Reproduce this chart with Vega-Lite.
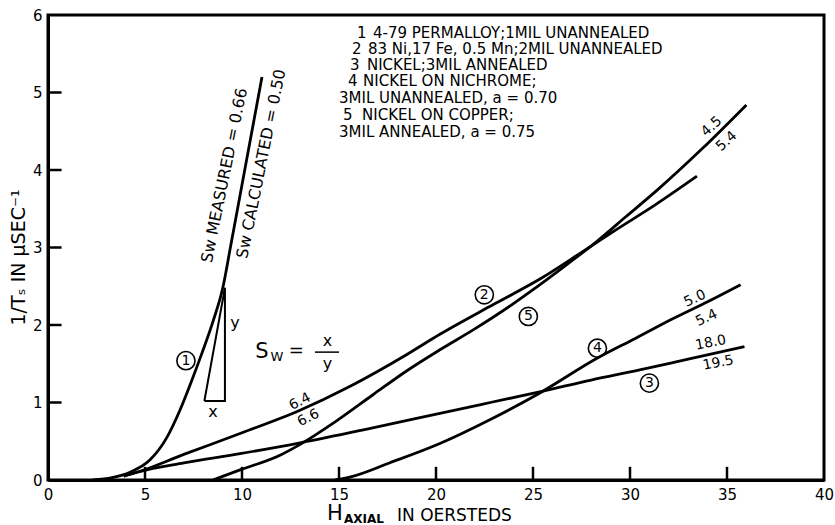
{
  "$schema": "https://vega.github.io/schema/vega-lite/v6.json",
  "width": 776,
  "height": 465,
  "autosize": {"type": "none"},
  "padding": {"left": 48, "top": 15, "right": 11, "bottom": 45},
  "background": "white",
  "config": {
    "font": "DejaVu Sans",
    "view": {"stroke": "black", "strokeWidth": 3},
    "text": {"color": "black", "font": "DejaVu Sans"}
  },
  "datasets": {
    "curves": [
      {"curve": "1", "x": 2.3, "y": 0},
      {"curve": "1", "x": 3.3, "y": 0.03},
      {"curve": "1", "x": 4.23, "y": 0.1},
      {"curve": "1", "x": 5.26, "y": 0.26},
      {"curve": "1", "x": 6.13, "y": 0.55},
      {"curve": "1", "x": 6.8, "y": 0.9},
      {"curve": "1", "x": 7.42, "y": 1.29},
      {"curve": "1", "x": 7.94, "y": 1.64},
      {"curve": "1", "x": 8.51, "y": 2.05},
      {"curve": "1", "x": 9.02, "y": 2.49},
      {"curve": "1", "x": 9.38, "y": 2.97},
      {"curve": "1", "x": 10.2, "y": 4.08},
      {"curve": "1", "x": 11.03, "y": 5.2},
      {"curve": "2", "x": 3.9, "y": 0.05},
      {"curve": "2", "x": 4.59, "y": 0.1},
      {"curve": "2", "x": 7.0, "y": 0.33},
      {"curve": "2", "x": 9.9, "y": 0.6},
      {"curve": "2", "x": 12.99, "y": 0.9},
      {"curve": "2", "x": 15.5, "y": 1.2},
      {"curve": "2", "x": 18.5, "y": 1.62},
      {"curve": "2", "x": 20.2, "y": 1.88},
      {"curve": "2", "x": 23.0, "y": 2.27},
      {"curve": "2", "x": 25.4, "y": 2.6},
      {"curve": "2", "x": 27.4, "y": 2.92},
      {"curve": "2", "x": 29.1, "y": 3.2},
      {"curve": "2", "x": 31.3, "y": 3.55},
      {"curve": "2", "x": 33.45, "y": 3.92},
      {"curve": "3", "x": 3.9, "y": 0.05},
      {"curve": "3", "x": 4.59, "y": 0.1},
      {"curve": "3", "x": 7.0, "y": 0.22},
      {"curve": "3", "x": 9.9, "y": 0.34},
      {"curve": "3", "x": 13.0, "y": 0.48},
      {"curve": "3", "x": 16.5, "y": 0.66},
      {"curve": "3", "x": 20.2, "y": 0.86},
      {"curve": "3", "x": 22.8, "y": 1.0},
      {"curve": "3", "x": 25.4, "y": 1.14},
      {"curve": "3", "x": 28.0, "y": 1.29},
      {"curve": "3", "x": 30.5, "y": 1.42},
      {"curve": "3", "x": 33.0, "y": 1.56},
      {"curve": "3", "x": 35.9, "y": 1.72},
      {"curve": "4", "x": 14.8, "y": 0},
      {"curve": "4", "x": 15.6, "y": 0.04},
      {"curve": "4", "x": 17.6, "y": 0.22},
      {"curve": "4", "x": 20.2, "y": 0.47},
      {"curve": "4", "x": 22.8, "y": 0.78},
      {"curve": "4", "x": 25.4, "y": 1.13},
      {"curve": "4", "x": 28.3, "y": 1.57},
      {"curve": "4", "x": 30.3, "y": 1.83},
      {"curve": "4", "x": 32.2, "y": 2.08},
      {"curve": "4", "x": 34.0, "y": 2.3},
      {"curve": "4", "x": 35.7, "y": 2.52},
      {"curve": "5", "x": 8.5, "y": 0},
      {"curve": "5", "x": 9.9, "y": 0.13},
      {"curve": "5", "x": 11.96, "y": 0.32},
      {"curve": "5", "x": 13.0, "y": 0.46},
      {"curve": "5", "x": 14.8, "y": 0.75},
      {"curve": "5", "x": 16.75, "y": 1.1},
      {"curve": "5", "x": 18.5, "y": 1.41},
      {"curve": "5", "x": 20.2, "y": 1.68},
      {"curve": "5", "x": 22.0, "y": 1.95},
      {"curve": "5", "x": 23.9, "y": 2.26},
      {"curve": "5", "x": 25.36, "y": 2.52},
      {"curve": "5", "x": 27.06, "y": 2.84},
      {"curve": "5", "x": 28.3, "y": 3.08},
      {"curve": "5", "x": 29.8, "y": 3.4},
      {"curve": "5", "x": 31.4, "y": 3.74},
      {"curve": "5", "x": 33.7, "y": 4.27},
      {"curve": "5", "x": 36.0, "y": 4.84}
    ],
    "triangle": [
      {"i": 0, "x": 8.06, "y": 1.02},
      {"i": 1, "x": 9.12, "y": 1.02},
      {"i": 2, "x": 9.12, "y": 2.48},
      {"i": 3, "x": 8.06, "y": 1.02}
    ],
    "tickpaths": [
      {"t": "x5", "k": 0, "x": 5, "y": 0}, {"t": "x5", "k": 1, "x": 5, "y": 0.17},
      {"t": "x10", "k": 0, "x": 10, "y": 0}, {"t": "x10", "k": 1, "x": 10, "y": 0.17},
      {"t": "x15", "k": 0, "x": 15, "y": 0}, {"t": "x15", "k": 1, "x": 15, "y": 0.17},
      {"t": "x20", "k": 0, "x": 20, "y": 0}, {"t": "x20", "k": 1, "x": 20, "y": 0.17},
      {"t": "x25", "k": 0, "x": 25, "y": 0}, {"t": "x25", "k": 1, "x": 25, "y": 0.17},
      {"t": "x30", "k": 0, "x": 30, "y": 0}, {"t": "x30", "k": 1, "x": 30, "y": 0.17},
      {"t": "x35", "k": 0, "x": 35, "y": 0}, {"t": "x35", "k": 1, "x": 35, "y": 0.17},
      {"t": "y1", "k": 0, "x": 0, "y": 1}, {"t": "y1", "k": 1, "x": 0.7, "y": 1},
      {"t": "y2", "k": 0, "x": 0, "y": 2}, {"t": "y2", "k": 1, "x": 0.7, "y": 2},
      {"t": "y3", "k": 0, "x": 0, "y": 3}, {"t": "y3", "k": 1, "x": 0.7, "y": 3},
      {"t": "y4", "k": 0, "x": 0, "y": 4}, {"t": "y4", "k": 1, "x": 0.7, "y": 4},
      {"t": "y5", "k": 0, "x": 0, "y": 5}, {"t": "y5", "k": 1, "x": 0.7, "y": 5}
    ],
    "circles": [
      {"x": 7.11, "y": 1.54, "text": "1"},
      {"x": 22.49, "y": 2.39, "text": "2"},
      {"x": 31.0, "y": 1.25, "text": "3"},
      {"x": 28.32, "y": 1.7, "text": "4"},
      {"x": 24.76, "y": 2.11, "text": "5"}
    ],
    "bar": [
      {"x": 13.76, "x2": 15.0, "y": 1.65}
    ],
    "notes": [
      {"group": "a27", "x": 12.99, "y": 1.01, "text": "6.4"},
      {"group": "a27", "x": 13.42, "y": 0.8, "text": "6.6"},
      {"group": "a42", "x": 34.21, "y": 4.56, "text": "4.5"},
      {"group": "a42", "x": 34.98, "y": 4.37, "text": "5.4"},
      {"group": "a25", "x": 33.35, "y": 2.34, "text": "5.0"},
      {"group": "a25", "x": 33.95, "y": 2.09, "text": "5.4"},
      {"group": "a11", "x": 34.16, "y": 1.77, "text": "18.0"},
      {"group": "a11", "x": 34.55, "y": 1.51, "text": "19.5"},
      {"group": "rot", "x": 9.1, "y": 3.93, "text": "Sw MEASURED = 0.66"},
      {"group": "rot", "x": 11.0, "y": 4.08, "text": "Sw CALCULATED = 0.50"},
      {"group": "legend", "x": 15.93, "y": 5.764, "text": "1"},
      {"group": "legend", "x": 16.75, "y": 5.764, "text": "4-79 PERMALLOY;1MIL UNANNEALED"},
      {"group": "legend", "x": 15.67, "y": 5.557, "text": "2"},
      {"group": "legend", "x": 16.49, "y": 5.557, "text": "83 Ni,17 Fe, 0.5 Mn;2MIL UNANNEALED"},
      {"group": "legend", "x": 15.57, "y": 5.355, "text": "3"},
      {"group": "legend", "x": 16.44, "y": 5.355, "text": "NICKEL;3MIL ANNEALED"},
      {"group": "legend", "x": 15.46, "y": 5.148, "text": "4"},
      {"group": "legend", "x": 16.24, "y": 5.148, "text": "NICKEL ON NICHROME;"},
      {"group": "legend", "x": 15.0, "y": 4.925, "text": "3MIL UNANNEALED, a = 0.70"},
      {"group": "legend", "x": 15.21, "y": 4.71, "text": "5"},
      {"group": "legend", "x": 16.19, "y": 4.71, "text": "NICKEL ON COPPER;"},
      {"group": "legend", "x": 15.0, "y": 4.494, "text": "3MIL ANNEALED, a = 0.75"},
      {"group": "S", "x": 11.03, "y": 1.65, "text": "S"},
      {"group": "W", "x": 11.8, "y": 1.59, "text": "W"},
      {"group": "eq", "x": 12.8, "y": 1.67, "text": "="},
      {"group": "var", "x": 14.4, "y": 1.8, "text": "x"},
      {"group": "var", "x": 14.4, "y": 1.5, "text": "y"},
      {"group": "var", "x": 8.5, "y": 0.88, "text": "x"},
      {"group": "var", "x": 9.64, "y": 2.03, "text": "y"},
      {"group": "H", "x": 14.79, "y": -0.44, "text": "H"},
      {"group": "AX", "x": 15.26, "y": -0.5, "text": "AXIAL"},
      {"group": "IN", "x": 17.99, "y": -0.46, "text": "IN OERSTEDS"}
    ]
  },
  "encoding": {
    "x": {
      "field": "x", "type": "quantitative",
      "scale": {"domain": [0, 40], "nice": false, "zero": false},
      "axis": {
        "title": null, "values": [0, 5, 10, 15, 20, 25, 30, 35, 40],
        "grid": false, "ticks": false,
        "domainColor": "black", "domainWidth": 3,
        "labelPadding": 7, "labelFontSize": 15, "labelColor": "black",
        "labelFlush": false, "labelOverlap": false, "labelFont": "DejaVu Sans"
      }
    },
    "y": {
      "field": "y", "type": "quantitative",
      "scale": {"domain": [0, 6], "nice": false, "zero": false},
      "axis": {
        "title": "1/Tₛ IN μSEC⁻¹", "values": [0, 1, 2, 3, 4, 5, 6],
        "grid": false, "ticks": false,
        "domainColor": "black", "domainWidth": 3,
        "labelPadding": 6, "labelFontSize": 15, "labelColor": "black",
        "labelFlush": false, "labelOverlap": false, "labelFont": "DejaVu Sans",
        "titleFont": "DejaVu Sans", "titleFontSize": 19, "titleFontWeight": "normal",
        "titleColor": "black", "titleX": -30, "titleY": 242, "titleAngle": -90,
        "titleAlign": "center", "titleBaseline": "middle"
      }
    }
  },
  "layer": [
    {
      "data": {"name": "curves"},
      "mark": {"type": "line", "color": "black", "strokeWidth": 2.8, "interpolate": "monotone"},
      "encoding": {"detail": {"field": "curve", "type": "nominal"}}
    },
    {
      "data": {"name": "triangle"},
      "mark": {"type": "line", "color": "black", "strokeWidth": 2},
      "encoding": {"order": {"field": "i", "type": "quantitative"}}
    },
    {
      "data": {"name": "tickpaths"},
      "mark": {"type": "line", "color": "black", "strokeWidth": 2.5, "strokeCap": "butt"},
      "encoding": {
        "detail": {"field": "t", "type": "nominal"},
        "order": {"field": "k", "type": "quantitative"}
      }
    },
    {
      "data": {"name": "circles"},
      "mark": {"type": "point", "shape": "circle", "filled": false, "color": "black", "size": 330, "strokeWidth": 1.6, "opacity": 1}
    },
    {
      "data": {"name": "circles"},
      "mark": {"type": "text", "fontSize": 14, "align": "center", "baseline": "middle"},
      "encoding": {"text": {"field": "text"}}
    },
    {
      "data": {"name": "bar"},
      "mark": {"type": "rule", "color": "black", "strokeWidth": 1.5},
      "encoding": {"x2": {"field": "x2"}}
    },
    {
      "data": {"name": "notes"},
      "transform": [{"filter": "datum.group === 'a27'"}],
      "mark": {"type": "text", "fontSize": 14, "angle": -27, "align": "center", "baseline": "middle"},
      "encoding": {"text": {"field": "text"}}
    },
    {
      "data": {"name": "notes"},
      "transform": [{"filter": "datum.group === 'a42'"}],
      "mark": {"type": "text", "fontSize": 14, "angle": -42, "align": "center", "baseline": "middle"},
      "encoding": {"text": {"field": "text"}}
    },
    {
      "data": {"name": "notes"},
      "transform": [{"filter": "datum.group === 'a25'"}],
      "mark": {"type": "text", "fontSize": 14, "angle": -25, "align": "center", "baseline": "middle"},
      "encoding": {"text": {"field": "text"}}
    },
    {
      "data": {"name": "notes"},
      "transform": [{"filter": "datum.group === 'a11'"}],
      "mark": {"type": "text", "fontSize": 14, "angle": -11, "align": "center", "baseline": "middle"},
      "encoding": {"text": {"field": "text"}}
    },
    {
      "data": {"name": "notes"},
      "transform": [{"filter": "datum.group === 'rot'"}],
      "mark": {"type": "text", "fontSize": 16, "angle": -78.5, "align": "center", "baseline": "middle"},
      "encoding": {"text": {"field": "text"}}
    },
    {
      "data": {"name": "notes"},
      "transform": [{"filter": "datum.group === 'legend'"}],
      "mark": {"type": "text", "fontSize": 15, "align": "left", "baseline": "middle"},
      "encoding": {"text": {"field": "text"}}
    },
    {
      "data": {"name": "notes"},
      "transform": [{"filter": "datum.group === 'S'"}],
      "mark": {"type": "text", "fontSize": 21, "align": "center", "baseline": "middle"},
      "encoding": {"text": {"field": "text"}}
    },
    {
      "data": {"name": "notes"},
      "transform": [{"filter": "datum.group === 'W'"}],
      "mark": {"type": "text", "fontSize": 13, "align": "center", "baseline": "middle"},
      "encoding": {"text": {"field": "text"}}
    },
    {
      "data": {"name": "notes"},
      "transform": [{"filter": "datum.group === 'eq'"}],
      "mark": {"type": "text", "fontSize": 18, "align": "center", "baseline": "middle"},
      "encoding": {"text": {"field": "text"}}
    },
    {
      "data": {"name": "notes"},
      "transform": [{"filter": "datum.group === 'var'"}],
      "mark": {"type": "text", "fontSize": 16, "align": "center", "baseline": "middle"},
      "encoding": {"text": {"field": "text"}}
    },
    {
      "data": {"name": "notes"},
      "transform": [{"filter": "datum.group === 'H'"}],
      "mark": {"type": "text", "fontSize": 21, "align": "center", "baseline": "middle"},
      "encoding": {"text": {"field": "text"}}
    },
    {
      "data": {"name": "notes"},
      "transform": [{"filter": "datum.group === 'AX'"}],
      "mark": {"type": "text", "fontSize": 12, "fontWeight": "bold", "align": "left", "baseline": "middle"},
      "encoding": {"text": {"field": "text"}}
    },
    {
      "data": {"name": "notes"},
      "transform": [{"filter": "datum.group === 'IN'"}],
      "mark": {"type": "text", "fontSize": 17, "align": "left", "baseline": "middle"},
      "encoding": {"text": {"field": "text"}}
    }
  ]
}
